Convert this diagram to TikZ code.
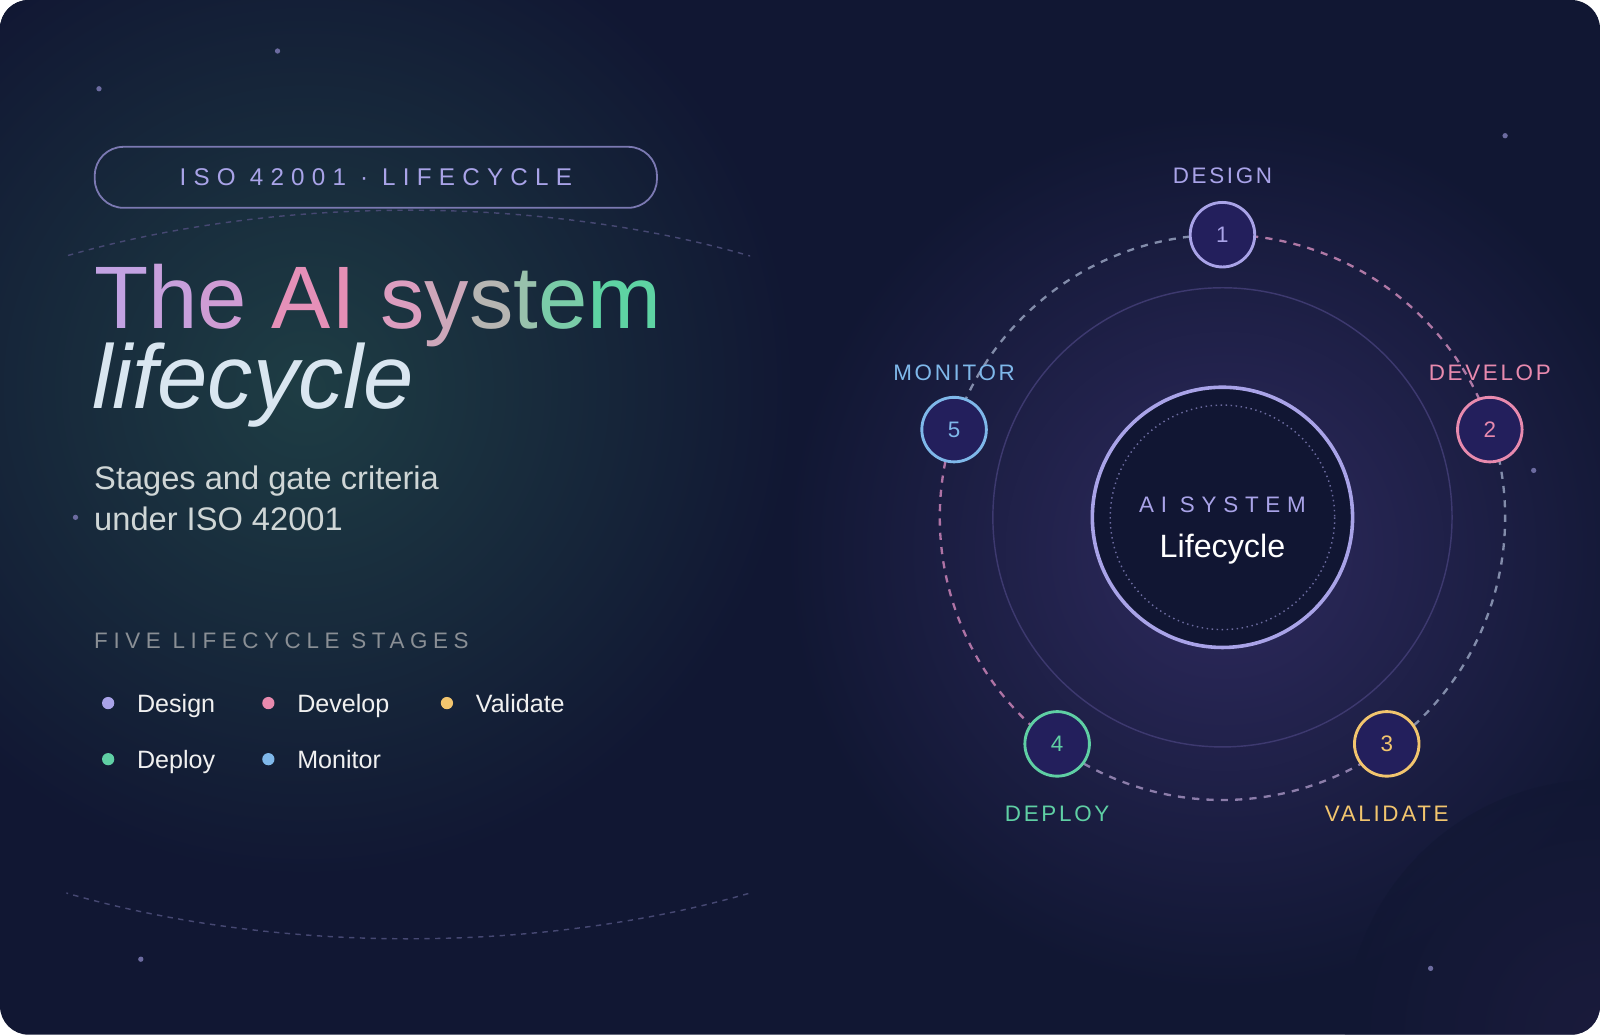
\documentclass[tikz,border=0pt]{standalone}
\usepackage{fontspec}
\setmainfont{Liberation Sans}
\newfontfamily\spacedA[LetterSpace=30]{Liberation Sans}
\newfontfamily\spacedC[LetterSpace=25]{Liberation Sans}
\newfontfamily\spacedB[LetterSpace=12]{Liberation Sans}
\usetikzlibrary{calc}
\definecolor{bg}{HTML}{111733}
\definecolor{teal}{HTML}{1E3D44}
\definecolor{purp}{HTML}{2E2A5E}
\definecolor{lav}{HTML}{A9A3E8}
\definecolor{pnk}{HTML}{E88AAE}
\definecolor{gld}{HTML}{F2C56E}
\definecolor{grn}{HTML}{5FCFA4}
\definecolor{blu}{HTML}{7FB8EA}
\definecolor{nodefill}{HTML}{231F5C}
\definecolor{core}{HTML}{111633}
\newcommand{\fs}[1]{\fontsize{#1}{#1}\selectfont}
\tikzset{
 stage/.style={circle,draw=#1,line width=1.6pt,fill=nodefill,minimum size=36pt,inner sep=0pt,text=#1,font=\fs{12.5}},
 slabel/.style={text=#1,font=\spacedB\fs{12.5},anchor=base},
 legtxt/.style={text=white!88!gray,font=\fs{14},anchor=base west,inner sep=0pt},
 ring/.style={line width=1.3pt,dash pattern=on 4pt off 4pt}
}
\begin{document}
\begin{tikzpicture}[x=0.02cm,y=-0.02cm]
\useasboundingbox (0,0) rectangle (1568,1014);
\begin{scope}
\clip[rounded corners=16pt] (0,0) rectangle (1568,1014);
\fill[bg] (0,0) rectangle (1568,1014);
\shade[inner color=teal,outer color=bg] (300,380) circle (480);
\shade[inner color=purp,outer color=bg] (1200,540) circle (430);
\shade[inner color=black!30!purp,outer color=bg,opacity=0.6] (1568,1014) circle (250);
\begin{scope}
\clip (65,190) rectangle (735,265);
\draw[lav!35!bg,dashed,line width=0.8pt] (400,563) ellipse (690 and 357);
\end{scope}
\begin{scope}
\clip (65,860) rectangle (735,930);
\draw[lav!35!bg,dashed,line width=0.8pt] (400,563) ellipse (690 and 357);
\end{scope}
\end{scope}
% stars
\foreach \p in {(97,87),(272,50),(1475,133),(1503,461),(138,940),(1402,949),(74,507)}
  \fill[lav!60!bg] \p circle (2.6);
% pill
\node[draw=lav!70!bg,line width=1pt,rounded corners=16pt,minimum width=553*0.567pt,minimum height=60*0.567pt,anchor=north west,inner sep=0pt] (pill) at (92,143) {};
\node[text=lav,font=\spacedA\fs{13.5}] (pilltxt) at (pill.center) {ISO 42001 · LIFECYCLE};
% title
\node[anchor=base west,inner sep=0pt,font=\fs{49.5}] (title) at (92,322) {%
\textcolor[HTML]{C2A2E2}{T}\textcolor[HTML]{C8A0DC}{h}\textcolor[HTML]{CF9CD4}{e} \textcolor[HTML]{E590B8}{A}\textcolor[HTML]{E58FB5}{I} \textcolor[HTML]{DC9DBF}{s}\textcolor[HTML]{CDA7BA}{y}\textcolor[HTML]{B6B5B2}{s}\textcolor[HTML]{98C1AC}{t}\textcolor[HTML]{7ACCA8}{e}\textcolor[HTML]{5ED3A3}{m}};
\node[anchor=base west,inner sep=0pt,font=\itshape\fs{50.5},text={rgb,255:red,217;green,230;blue,240}] (title2) at (90,400) {lifecycle};
\node[anchor=base west,inner sep=0pt,font=\fs{18.2},text={rgb,255:red,207;green,214;blue,214}] (sub1) at (92,480) {Stages and gate criteria};
\node[anchor=base west,inner sep=0pt,font=\fs{18.2},text={rgb,255:red,207;green,214;blue,214}] (sub2) at (92,520) {under ISO 42001};
\node[anchor=base west,inner sep=0pt,font=\spacedC\fs{12.5},text={rgb,255:red,138;green,143;blue,149}] (five) at (92,636) {FIVE LIFECYCLE STAGES};
% legend
\fill[lav] (106,689) circle (6); \node[legtxt] (l1) at (134,698) {Design};
\fill[pnk] (263,689) circle (6); \node[legtxt] (l2) at (291,698) {Develop};
\fill[gld] (438,689) circle (6); \node[legtxt] (l3) at (466,698) {Validate};
\fill[grn] (106,744) circle (6); \node[legtxt] (l4) at (134,753) {Deploy};
\fill[blu] (263,744) circle (6); \node[legtxt] (l5) at (291,753) {Monitor};
% diagram
\coordinate (c) at (1198,507);
\draw[lav!12!purp,line width=0.8pt] (c) circle (225);
\draw[ring,draw={rgb,255:red,175;green,120;blue,165}] ($(c)+(-90:277)$) arc (-90:-18:277);
\draw[ring,draw={rgb,255:red,130;green,140;blue,170}] ($(c)+(-18:277)$) arc (-18:54:277);
\draw[ring,draw={rgb,255:red,140;green,125;blue,170}] ($(c)+(54:277)$) arc (54:126:277);
\draw[ring,draw={rgb,255:red,175;green,115;blue,165}] ($(c)+(126:277)$) arc (126:198:277);
\draw[ring,draw={rgb,255:red,130;green,140;blue,170}] ($(c)+(198:277)$) arc (198:270:277);
\node[circle,draw=lav,line width=2pt,fill=core,minimum size=256*0.567pt] (core) at (c) {};
\draw[lav!60!core,dotted,line width=0.8pt] (c) circle (110);
\node[text=lav,font=\spacedA\fs{12.5}] (coret) at (1198,495) {AI SYSTEM};
\node[text=white,font=\fs{18}] (corel) at (1198,538) {Lifecycle};
\node[stage=lav] (s1) at (1198,230) {1};
\node[stage=pnk] (s2) at (1460,421) {2};
\node[stage=gld] (s3) at (1359,729) {3};
\node[stage=grn] (s4) at (1036,729) {4};
\node[stage=blu] (s5) at (935,421) {5};
\node[slabel=lav] (t1) at (1198,180) {DESIGN};
\node[slabel=pnk] (t2) at (1460,373) {DEVELOP};
\node[slabel=gld] (t3) at (1359,805) {VALIDATE};
\node[slabel=grn] (t4) at (1036,805) {DEPLOY};
\node[slabel=blu] (t5) at (935,373) {MONITOR};
\end{tikzpicture}
\end{document}
